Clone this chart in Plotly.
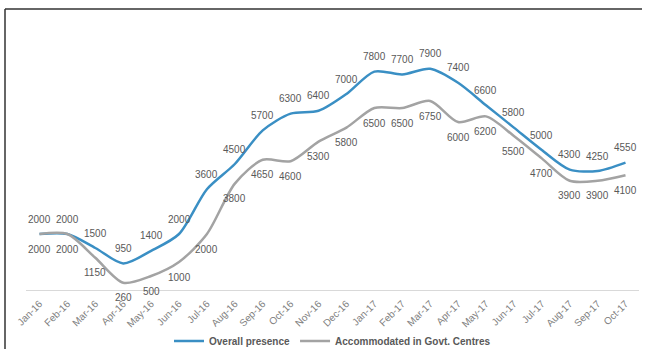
import plotly.graph_objects as go

months = ["Jan-16", "Feb-16", "Mar-16", "Apr-16", "May-16", "Jun-16", "Jul-16", "Aug-16",
          "Sep-16", "Oct-16", "Nov-16", "Dec-16", "Jan-17", "Feb-17", "Mar-17", "Apr-17",
          "May-17", "Jun-17", "Jul-17", "Aug-17", "Sep-17", "Oct-17"]
overall = [2000, 2000, 1500, 950, 1400, 2000, 3600, 4500, 5700, 6300, 6400, 7000,
           7800, 7700, 7900, 7400, 6600, 5800, 5000, 4300, 4250, 4550]
accommodated = [2000, 2000, 1150, 260, 500, 1000, 2000, 3800, 4650, 4600, 5300, 5800,
                6500, 6500, 6750, 6000, 6200, 5500, 4700, 3900, 3900, 4100]

W, H = 647, 349
L, R, T, B = 26, 8, 38, 59
pw, ph = W - L - R, H - T - B

def px(x):
    return (x - L) / pw

def py(y):
    return 1 - (y - T) / ph

FONT = "Liberation Sans, Arial"

fig = go.Figure()
fig.add_trace(go.Scatter(
    x=months, y=overall, name="Overall presence", mode="lines",
    line=dict(color="#3a8fc4", width=2.5, shape="spline", smoothing=0.8),
))
fig.add_trace(go.Scatter(
    x=months, y=accommodated, name="Accommodated in Govt. Centres", mode="lines",
    line=dict(color="#a3a3a3", width=2.5, shape="spline", smoothing=0.8),
))

annotations = []
for m, v in zip(months, overall):
    annotations.append(dict(x=m, y=v, xref="x", yref="y", text=str(v), showarrow=False,
                            yshift=15, font=dict(family=FONT, size=10, color="#595959")))
for m, v in zip(months, accommodated):
    annotations.append(dict(x=m, y=v, xref="x", yref="y", text=str(v), showarrow=False,
                            yshift=-15, font=dict(family=FONT, size=10, color="#595959")))

fig.update_layout(
    width=W, height=H,
    margin=dict(l=L, r=R, t=T, b=B, autoexpand=False),
    paper_bgcolor="white", plot_bgcolor="white",
    font=dict(family=FONT, color="#595959"),
    showlegend=True,
    legend=dict(orientation="h", x=0.5, xanchor="center", y=py(341), yanchor="middle",
                font=dict(family=FONT, size=10, color="#595959", weight="bold"),
                itemwidth=30, bgcolor="rgba(0,0,0,0)"),
    xaxis=dict(type="category", showgrid=False, showline=True, linecolor="#d9d9d9",
               linewidth=1, ticks="", tickangle=-45, automargin=False, ticklabelstandoff=3,
               tickfont=dict(family=FONT, size=10, color="#7f7f7f")),
    yaxis=dict(range=[0, 9000], showgrid=False, showticklabels=False, zeroline=False,
               showline=False, automargin=False),
    annotations=annotations,
    shapes=[
        dict(type="line", xref="paper", yref="paper", x0=px(5), x1=px(642), y0=py(9), y1=py(9),
             line=dict(color="#333333", width=1.5)),
        dict(type="line", xref="paper", yref="paper", x0=px(5), x1=px(5), y0=py(9), y1=py(349),
             line=dict(color="#333333", width=1.5)),
    ],
)

fig.write_html("out.html")
